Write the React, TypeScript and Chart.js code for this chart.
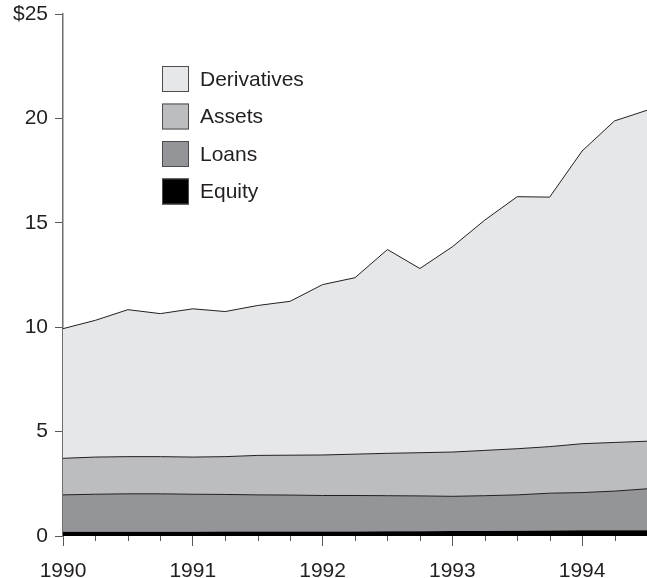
import React, { useEffect, useRef } from "react";
import { Chart, registerables } from "chart.js";

Chart.register(...registerables);

const quarters = [
  1990, 1990.25, 1990.5, 1990.75, 1991, 1991.25, 1991.5, 1991.75, 1992, 1992.25,
  1992.5, 1992.75, 1993, 1993.25, 1993.5, 1993.75, 1994, 1994.25, 1994.5,
];
const equity = [0.2, 0.2, 0.2, 0.2, 0.2, 0.21, 0.21, 0.21, 0.22, 0.22, 0.23, 0.23, 0.24, 0.24, 0.25, 0.26, 0.27, 0.28, 0.28];
const loans = [1.77, 1.8, 1.82, 1.82, 1.8, 1.78, 1.76, 1.75, 1.72, 1.72, 1.7, 1.69, 1.66, 1.69, 1.72, 1.79, 1.81, 1.87, 1.98];
const assets = [1.75, 1.78, 1.78, 1.78, 1.78, 1.81, 1.89, 1.91, 1.94, 1.98, 2.03, 2.07, 2.12, 2.17, 2.21, 2.23, 2.34, 2.33, 2.28];
const derivatives = [6.21, 6.55, 7.04, 6.85, 7.1, 6.95, 7.18, 7.37, 8.16, 8.45, 9.76, 8.82, 9.83, 11.03, 12.07, 11.95, 14.02, 15.4, 15.85];
const yearTicks = [1990, 1991, 1992, 1993, 1994];
const yTicks = [0, 5, 10, 15, 20, 25];
const yTickLabels = ["0", "5", "10", "15", "20", "$25"];

const FONT = "'Liberation Sans', Arial, Helvetica, sans-serif";
const TEXT = "#231f20";
const AXIS = "#58595b";

const toPoints = (vals: number[]) => quarters.map((x, i) => ({ x, y: vals[i] }));

const quarterTicksPlugin = {
  id: "quarterTicks",
  afterDraw(chart: any) {
    const ctx = chart.ctx;
    const xs = chart.scales.x;
    const bottom = chart.chartArea.bottom;
    ctx.save();
    ctx.strokeStyle = AXIS;
    ctx.lineWidth = 1;
    quarters.forEach((q) => {
      if (Number.isInteger(q)) return;
      const px = Math.round(xs.getPixelForValue(q)) + 0.5;
      ctx.beginPath();
      ctx.moveTo(px, bottom);
      ctx.lineTo(px, bottom + 5);
      ctx.stroke();
    });
    ctx.restore();
  },
};

const legendPlugin = {
  id: "insideLegend",
  afterDraw(chart: any) {
    const ctx = chart.ctx;
    const ds = [...chart.data.datasets].reverse();
    ctx.save();
    ctx.font = `21px ${FONT}`;
    ctx.textBaseline = "middle";
    ctx.textAlign = "left";
    ds.forEach((d: any, i: number) => {
      const top = 66 + i * 37.5;
      ctx.fillStyle = d.backgroundColor;
      ctx.fillRect(162, top, 27, 26);
      ctx.strokeStyle = "#4d4d4f";
      ctx.lineWidth = 1;
      ctx.strokeRect(162.5, top + 0.5, 26, 25);
      ctx.fillStyle = TEXT;
      ctx.fillText(d.label, 200, top + 14);
    });
    ctx.restore();
  },
};

export default function App() {
  const ref = useRef<HTMLCanvasElement>(null);
  useEffect(() => {
    if (!ref.current) return;
    const chart = new Chart(ref.current, {
      type: "line",
      data: {
        datasets: [
          {
            label: "Equity",
            data: toPoints(equity),
            backgroundColor: "#000000",
            borderColor: "#000000",
            borderWidth: 0,
            fill: "origin",
            pointRadius: 0,
          },
          {
            label: "Loans",
            data: toPoints(loans),
            backgroundColor: "#939598",
            borderColor: TEXT,
            borderWidth: 1,
            fill: "-1",
            pointRadius: 0,
          },
          {
            label: "Assets",
            data: toPoints(assets),
            backgroundColor: "#bcbdbf",
            borderColor: TEXT,
            borderWidth: 1,
            fill: "-1",
            pointRadius: 0,
          },
          {
            label: "Derivatives",
            data: toPoints(derivatives),
            backgroundColor: "#e6e7e8",
            borderColor: TEXT,
            borderWidth: 1,
            fill: "-1",
            pointRadius: 0,
          },
        ],
      },
      options: {
        animation: false,
        responsive: true,
        maintainAspectRatio: false,
        layout: { padding: { top: 14, right: 0, left: 0, bottom: 0 } },
        plugins: { legend: { display: false }, tooltip: { enabled: false } },
        elements: { line: { tension: 0 } },
        scales: {
          x: {
            type: "linear",
            min: 1990,
            max: 1994.5,
            afterBuildTicks: (scale: any) => {
              scale.ticks = yearTicks.map((v) => ({ value: v }));
            },
            afterFit: (scale: any) => {
              scale.height = 42;
              scale.paddingLeft = 0;
              scale.paddingRight = 0;
            },
            grid: { drawOnChartArea: false, tickLength: 10, color: AXIS, lineWidth: 1 },
            border: { display: false },
            ticks: {
              color: TEXT,
              font: { family: FONT, size: 21 },
              padding: 13,
              maxRotation: 0,
              autoSkip: false,
              callback: (v: any) => String(v),
            },
          },
          y: {
            type: "linear",
            stacked: true,
            min: 0,
            max: 25,
            afterBuildTicks: (scale: any) => {
              scale.ticks = yTicks.map((v) => ({ value: v }));
            },
            afterFit: (scale: any) => {
              scale.width = 63;
              scale.paddingTop = 0;
              scale.paddingBottom = 0;
            },
            grid: { drawOnChartArea: false, tickLength: 8, color: AXIS, lineWidth: 1 },
            border: { display: true, color: "#6d6e71", width: 1.5 },
            ticks: {
              color: TEXT,
              font: { family: FONT, size: 21 },
              padding: 7,
              callback: (v: any) => yTickLabels[yTicks.indexOf(Number(v))] ?? "",
            },
          },
        },
      },
      plugins: [quarterTicksPlugin, legendPlugin],
    });
    return () => chart.destroy();
  }, []);
  return (
    <div style={{ position: "fixed", left: 0, top: 0, width: 647, height: 578, background: "#fff" }}>
      <canvas ref={ref} />
    </div>
  );
}
